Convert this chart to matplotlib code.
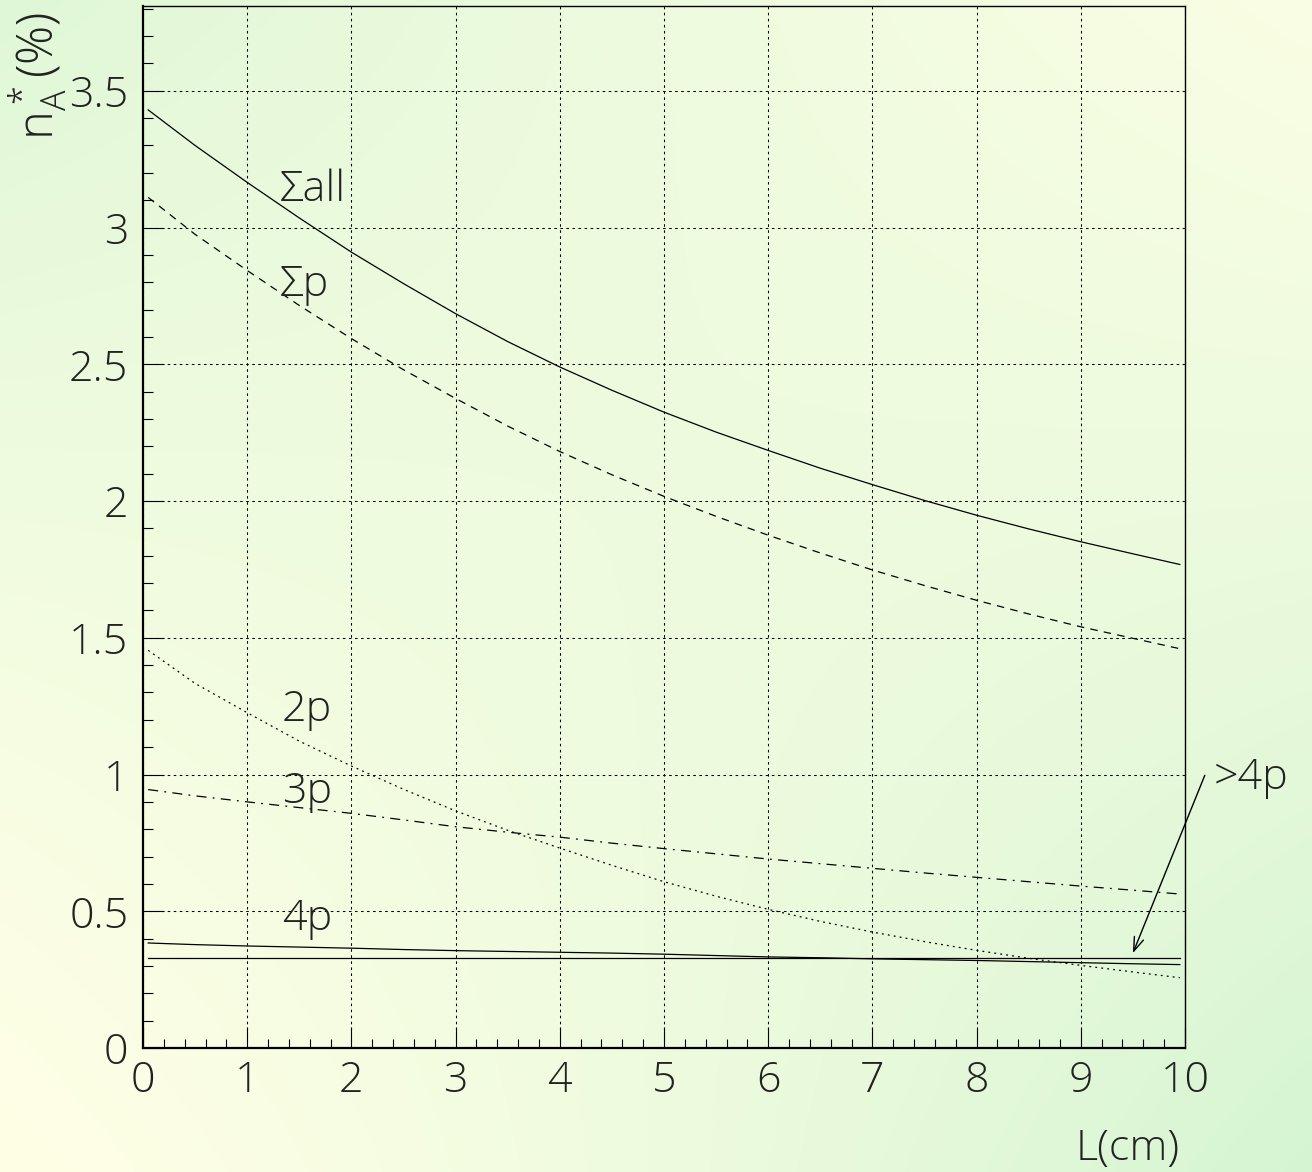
import numpy as np
import matplotlib
matplotlib.use('Agg')
import matplotlib.pyplot as plt
from matplotlib.ticker import MultipleLocator

plt.rcParams['font.family'] = ['Open Sans', 'Lato', 'DejaVu Sans']
plt.rcParams['font.weight'] = 'light'
plt.rcParams['mathtext.default'] = 'regular'

# path length L (cm) and n_A* (%) for each multiplicity class
L = [0.05, 0.5, 1.0, 1.5, 2.0, 2.5, 3.0, 3.5, 4.0, 4.5, 5.0,
     5.5, 6.0, 6.5, 7.0, 7.5, 8.0, 8.5, 9.0, 9.5, 9.95]
n_all = [3.43, 3.30, 3.165, 3.035, 2.91, 2.795, 2.685, 2.583, 2.49, 2.405, 2.325,
         2.252, 2.185, 2.12, 2.06, 2.002, 1.948, 1.898, 1.851, 1.807, 1.768]
n_sump = [3.11, 2.975, 2.843, 2.715, 2.594, 2.48, 2.375, 2.274, 2.181, 2.096, 2.017,
          1.944, 1.875, 1.81, 1.748, 1.691, 1.637, 1.587, 1.54, 1.498, 1.46]
n_2p = [1.454, 1.333, 1.226, 1.122, 1.031, 0.946, 0.867, 0.796, 0.731, 0.668, 0.608,
        0.555, 0.507, 0.463, 0.424, 0.389, 0.357, 0.328, 0.302, 0.278, 0.257]
n_3p = [0.945, 0.922, 0.90, 0.879, 0.858, 0.834, 0.809, 0.789, 0.771, 0.749, 0.729,
        0.71, 0.691, 0.674, 0.657, 0.64, 0.624, 0.608, 0.592, 0.577, 0.563]
n_4p = [0.384, 0.378, 0.373, 0.369, 0.365, 0.36, 0.356, 0.353, 0.35, 0.347, 0.343,
        0.338, 0.333, 0.33, 0.326, 0.323, 0.32, 0.316, 0.312, 0.308, 0.305]
L_gt4 = [0.05, 9.95]
n_gt4 = [0.329, 0.329]

W, H = 1312, 1172
fig = plt.figure(figsize=(W/100, H/100), dpi=100)

# yellow/green background wash
bg = fig.add_axes([0, 0, 1, 1], zorder=-10)
u, v = np.meshgrid(np.linspace(0, 1, 200), np.linspace(0, 1, 200))
t = 0.8*(1-u)*(1-v) + 0.2*u*(1-v) + 1.0*u*v
t = np.clip(t, 0, 1)**1.3
yellow = np.array([255, 255, 230])/255.
green = np.array([213, 245, 210])/255.
img = yellow[None, None, :]*(1-t[..., None]) + green[None, None, :]*t[..., None]
bg.imshow(img, aspect='auto', extent=[0, 1, 0, 1], interpolation='bilinear')
bg.axis('off')

ax = fig.add_axes([143/W, 1-1048/H, (1185-143)/W, (1048-6)/H])
ax.set_facecolor('none')

lw = 0.9
ax.plot(L, n_all, color='k', lw=lw)
ax.plot(L, n_sump, color='k', lw=lw, linestyle=(0, (6, 5)))
ax.plot(L, n_2p, color='k', lw=lw, linestyle=(0, (1.5, 3.3)))
ax.plot(L, n_3p, color='k', lw=lw, linestyle=(0, (8, 5, 1.5, 5)))
ax.plot(L, n_4p, color='k', lw=lw)
ax.plot(L_gt4, n_gt4, color='k', lw=lw)

ax.set_xlim(0, 10)
ax.set_ylim(0, 3.81)
ax.xaxis.set_major_locator(MultipleLocator(1))
ax.xaxis.set_minor_locator(MultipleLocator(0.2))
ax.yaxis.set_minor_locator(MultipleLocator(0.1))
ax.set_yticks(np.arange(0, 3.6, 0.5))
ax.set_yticklabels(['0', '0.5', '1', '1.5', '2', '2.5', '3', '3.5'])

fs = 31
ax.tick_params(which='both', direction='in', top=False, right=False,
               labelsize=fs, width=0.8, color='k', labelcolor='#222222')
ax.tick_params(axis='x', which='major', length=15, pad=8)
ax.tick_params(axis='x', which='minor', length=6.5)
ax.tick_params(axis='y', which='major', length=15, pad=10.5)
ax.tick_params(axis='y', which='minor', length=7)

ax.grid(True, which='major', color='k', lw=0.75, linestyle=(0, (2.5, 3.3)))
for side in ['left', 'bottom']:
    ax.spines[side].set_linewidth(1.6)
for side in ['top', 'right']:
    ax.spines[side].set_linewidth(1.0)

tc = '#222222'
ax.text(1.31, 3.098, '\u03a3all', fontsize=fs, color=tc)
ax.text(1.31, 2.751, '\u03a3p', fontsize=fs, color=tc)
ax.text(1.33, 1.196, '2p', fontsize=fs, color=tc)
ax.text(1.33, 0.895, '3p', fontsize=fs, color=tc)
ax.text(1.33, 0.431, '4p', fontsize=fs, color=tc)
ax.text(10.27, 0.946, '>4p', fontsize=fs, color=tc, clip_on=False)
ax.annotate('', xy=(9.50, 0.347), xytext=(10.19, 0.997),
            arrowprops=dict(arrowstyle='->,head_length=1.0,head_width=0.35',
                            color='k', lw=1.0, shrinkA=0, shrinkB=0),
            annotation_clip=False)

fig.text(1180/W, 1-1160/H, 'L(cm)', fontsize=fs, ha='right', va='baseline', color=tc)
fig.text(38/W, 1-12/H, r'$n_A^*(\%)$', fontsize=35, rotation=90,
         ha='center', va='top', color=tc)

fig.savefig('out.png', dpi=100)
